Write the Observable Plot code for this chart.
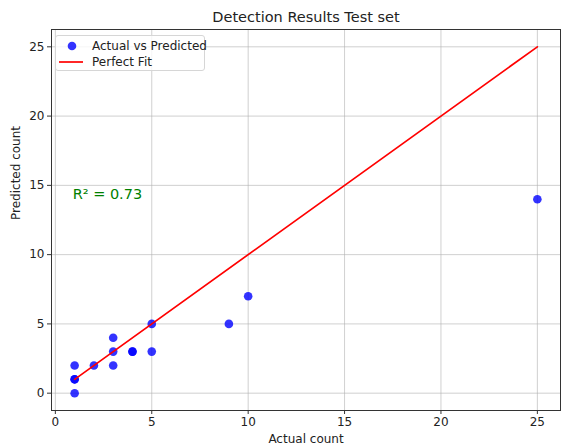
<!DOCTYPE html>
<html>
<head>
<meta charset="utf-8">
<script src="https://cdn.jsdelivr.net/npm/d3@7"></script>
<script src="https://cdn.jsdelivr.net/npm/@observablehq/plot@0.6"></script>
<style>
  html, body { margin: 0; padding: 0; background: #fff; }
  #chart { position: relative; width: 561px; height: 447px; font-family: "DejaVu Sans", sans-serif; }
  .legend {
    position: absolute; left: 55px; top: 35px; width: 150px; height: 36px;
    border: 1px solid #d6d6d6; border-radius: 3px; background: rgba(255,255,255,0.8);
    font-size: 12px; color: #222; box-sizing: border-box;
  }
  .legend .row { position: absolute; left: 0; height: 16px; line-height: 16px; }
  .legend .sym { position: absolute; }
  .legend .lab { position: absolute; left: 36px; white-space: nowrap; }
</style>
</head>
<body>
<div id="chart"></div>
<script>
// Test-set detections: true count vs model prediction
const actual    = [1, 1, 1, 1, 2, 3, 3, 3, 4, 4, 5, 5, 9, 10, 25];
const predicted = [0, 1, 1, 2, 2, 2, 3, 4, 3, 3, 3, 5, 5, 7, 14];

// Identity line spanning the observed range
const fitLine = [1, 25];

const ticks = [0, 5, 10, 15, 20, 25];
const rSquared = 0.73;
const titleText = "Detection Results Test set";
const xLabel = "Actual count";
const yLabel = "Predicted count";
const legendLabels = ["Actual vs Predicted", "Perfect Fit"];

const points = actual.map((a, i) => ({actual: a, predicted: predicted[i]}));
const fit = fitLine.map(v => ({x: v, y: v}));
const note = [{x: 1, y: 14, text: `R² = ${rSquared.toFixed(2)}`}];

const chart = Plot.plot({
  width: 561,
  height: 447,
  marginLeft: 51,
  marginRight: 1,
  marginTop: 29,
  marginBottom: 37,
  style: {fontFamily: "DejaVu Sans, sans-serif", fontSize: "12px", color: "#222", background: "#fff"},
  x: {domain: [-0.2, 26.2], ticks},
  y: {domain: [-1.25, 26.25], ticks},
  marks: [
    Plot.gridX(ticks, {stroke: "#b0b0b0", strokeOpacity: 0.6, strokeWidth: 1}),
    Plot.gridY(ticks, {stroke: "#b0b0b0", strokeOpacity: 0.6, strokeWidth: 1}),
    Plot.dot(points, {x: "actual", y: "predicted", r: 4.3, fill: "blue", fillOpacity: 0.8, stroke: "none"}),
    Plot.line(fit, {x: "x", y: "y", stroke: "red", strokeWidth: 1.7}),
    Plot.text(note, {x: "x", y: "y", text: "text", textAnchor: "start", lineAnchor: "bottom", dx: -2, dy: 0, fill: "#008000", fontSize: 14.5}),
    Plot.frame({stroke: "#333", strokeWidth: 1}),
    Plot.axisX(ticks, {tickSize: 4, tickPadding: 3, label: null, stroke: "#333", fill: "#222", fontSize: 12}),
    Plot.axisY(ticks, {tickSize: 4, tickPadding: 3, label: null, stroke: "#333", fill: "#222", fontSize: 12}),
    Plot.text([xLabel], {frameAnchor: "bottom", lineAnchor: "middle", dy: 29, fill: "#222", fontSize: 12}),
    Plot.text([yLabel], {frameAnchor: "left", rotate: -90, dx: -35, fill: "#222", fontSize: 12}),
    Plot.text([titleText], {frameAnchor: "top", lineAnchor: "middle", dy: -12, fill: "#222", fontSize: 14.5})
  ]
});

const root = document.getElementById("chart");
root.appendChild(chart);

// Legend box in the upper-left corner of the plot area
const legend = document.createElement("div");
legend.className = "legend";
legend.innerHTML = `
  <div class="row" style="top:2px">
    <svg class="sym" width="36" height="16"><circle cx="16" cy="8" r="4.3" fill="blue" fill-opacity="0.8"></circle></svg>
    <span class="lab">${legendLabels[0]}</span>
  </div>
  <div class="row" style="top:18px">
    <svg class="sym" width="36" height="16"><line x1="3" x2="27" y1="8" y2="8" stroke="red" stroke-width="1.7"></line></svg>
    <span class="lab">${legendLabels[1]}</span>
  </div>`;
root.appendChild(legend);
</script>
</body>
</html>
